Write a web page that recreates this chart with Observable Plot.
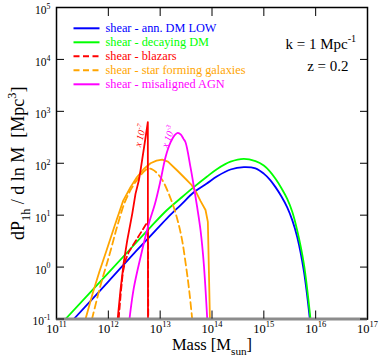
<!DOCTYPE html>
<html><head><meta charset="utf-8">
<script src="https://cdn.jsdelivr.net/npm/d3@7"></script>
<script src="https://cdn.jsdelivr.net/npm/@observablehq/plot@0.6"></script>
<style>
body{margin:0;background:#fff}
svg text{white-space:pre}
</style>
</head><body><div id="chart"></div>
<script>
// ---------- data (log10 values) ----------
const xTicks = [1e11, 1e12, 1e13, 1e14, 1e15, 1e16, 1e17];
const xTickLabels = ["10^{11}", "10^{12}", "10^{13}", "10^{14}", "10^{15}", "10^{16}", "10^{17}"];
const yTicks = [1e-1, 1e0, 1e1, 1e2, 1e3, 1e4, 1e5];
const yTickLabels = ["10^{-1}", "10^{0}", "10^{1}", "10^{2}", "10^{3}", "10^{4}", "10^{5}"];

const seriesNames = ["shear - ann. DM LOW", "shear - decaying DM", "shear - blazars", "shear - star forming galaxies", "shear - misaligned AGN"];
const seriesColors = ["#0000ff", "#00ff00", "#ff0000", "#ffa500", "#ff00ff"];

// annihilating DM (blue)
const annDM_logM = [11.334, 12.0, 12.5, 12.814, 13.122, 13.4, 13.649, 13.9, 14.10, 14.357, 14.614, 14.839, 14.999, 15.12, 15.225, 15.34, 15.451, 15.55, 15.644, 15.771, 15.887];
const annDM_logP = [-1.0, -0.28, 0.27, 0.60, 0.93, 1.20, 1.44, 1.61, 1.75, 1.88, 1.924, 1.90, 1.80, 1.68, 1.54, 1.36, 1.15, 0.90, 0.58, -0.07, -1.0];
// decaying DM (green)
const decDM_logM = [11.174, 12.0, 12.5, 12.814, 13.122, 13.4, 13.649, 13.9, 14.10, 14.357, 14.614, 14.839, 14.999, 15.12, 15.225, 15.34, 15.451, 15.55, 15.644, 15.771, 15.90];
const decDM_logP = [-1.0, -0.11, 0.43, 0.77, 1.09, 1.33, 1.54, 1.74, 1.89, 2.03, 2.086, 2.04, 1.956, 1.84, 1.70, 1.52, 1.315, 1.06, 0.705, 0.07, -1.0];
// blazars solid (red)
const blzS_logM = [12.18, 12.235, 12.298, 12.364, 12.461, 12.524, 12.588, 12.621, 12.70, 12.762, 12.765];
const blzS_logP = [-1.0, -0.44, 0.094, 0.51, 1.026, 1.41, 1.667, 1.86, 2.38, 2.79, -1.0];
// blazars dashed (red)
const blzD_logM = [12.20, 12.24, 12.28, 12.33, 12.395, 12.50, 12.60, 12.70, 12.75, 12.765, 12.77];
const blzD_logP = [-1.0, -0.5, -0.1, 0.13, 0.29, 0.46, 0.62, 0.78, 0.86, 0.84, -1.0];
// star forming galaxies solid (orange)
const sfgS_logM = [11.56, 11.70, 11.83, 11.965, 12.13, 12.287, 12.428, 12.55, 12.684, 12.814, 12.93, 13.039, 13.15, 13.329, 13.45, 13.60, 13.70, 13.78, 13.875, 13.92, 13.96];
const sfgS_logP = [-1.0, -0.50, -0.08, 0.32, 0.82, 1.28, 1.54, 1.73, 1.89, 2.00, 2.05, 2.07, 2.03, 1.86, 1.74, 1.59, 1.43, 1.27, 1.10, 0.87, -1.0];
// star forming galaxies dashed (orange)
const sfgD_logM = [11.685, 11.85, 12.028, 12.17, 12.318, 12.45, 12.60, 12.72, 12.78, 12.85, 12.93, 13.04, 13.15, 13.263, 13.35, 13.425, 13.49, 13.553, 13.618];
const sfgD_logP = [-1.0, -0.35, 0.26, 0.78, 1.25, 1.52, 1.74, 1.87, 1.90, 1.88, 1.82, 1.68, 1.45, 1.15, 0.85, 0.51, 0.08, -0.39, -1.0];
// misaligned AGN (magenta)
const agn_logM = [12.408, 12.491, 12.621, 12.781, 12.90, 13.007, 13.103, 13.2, 13.28, 13.34, 13.40, 13.45, 13.489, 13.585, 13.65, 13.714, 13.78, 13.842, 13.908];
const agn_logP = [-1.0, -0.407, 0.19, 0.834, 1.22, 1.667, 2.116, 2.40, 2.54, 2.586, 2.55, 2.47, 2.405, 1.924, 1.55, 1.153, 0.70, 0.06, -1.0];

// annotations
const annotLabels = ["x 10^{-7}", "x 10^{-3}"];
const annotLogM = [12.62, 13.16];
const annotLogP = [2.53, 2.51];
const annotColors = ["#ff0000", "#ff00ff"];

const infoLabels = ["k = 1 Mpc^{-1}", "z = 0.2"];

// ---------- build ----------
const FONT = '"Liberation Serif","Times New Roman",serif';
const rows = (lm, lp) => lm.map((m, i) => ({M: 10 ** m, P: 10 ** lp[i]}));

const series = [
  {rows: rows(annDM_logM, annDM_logP), color: seriesColors[0], dash: null, curve: "catmull-rom"},
  {rows: rows(decDM_logM, decDM_logP), color: seriesColors[1], dash: null, curve: "catmull-rom"},
  {rows: rows(sfgS_logM, sfgS_logP), color: seriesColors[3], dash: null, curve: "linear"},
  {rows: rows(sfgD_logM, sfgD_logP), color: seriesColors[3], dash: "7,4", curve: "catmull-rom"},
  {rows: rows(blzS_logM, blzS_logP), color: seriesColors[2], dash: null, curve: "linear"},
  {rows: rows(blzD_logM, blzD_logP), color: seriesColors[2], dash: "6,3.5", curve: "linear"},
  {rows: rows(agn_logM, agn_logP), color: seriesColors[4], dash: null, curve: "catmull-rom"}
];
const legendDash = [null, null, "6,3.5", "6,3.5", null];

const annots = annotLabels.map((t, i) => ({t, M: 10 ** annotLogM[i], P: 10 ** annotLogP[i], c: annotColors[i], r: i === 0 ? -75 : -70}));

const chart = Plot.plot({
  width: 379, height: 363,
  marginLeft: 56, marginRight: 12, marginTop: 7, marginBottom: 44.5,
  style: {fontFamily: FONT, background: "white", overflow: "visible"},
  x: {type: "log", domain: [1e11, 1e17]},
  y: {type: "log", domain: [1e-1, 1e5]},
  marks: [
    ...series.map(s => Plot.line(s.rows, {x: "M", y: "P", stroke: s.color, strokeWidth: 1.8, strokeDasharray: s.dash, curve: s.curve, clip: true})),
    Plot.text(annots, {x: "M", y: "P", text: "t", fill: "c", rotate: d => d.r, fontSize: 10, fontStyle: "italic"}),
    Plot.frame({stroke: "black", strokeWidth: 1.5}),
    Plot.ruleY([1e-1], {stroke: "#8c8c8c", strokeWidth: 3}),
    Plot.axisX({ticks: xTicks, anchor: "bottom", tickSize: -8, tickFormat: () => "", label: null, stroke: "black"}),
    Plot.axisX({ticks: xTicks, anchor: "top", tickSize: -8, tickFormat: () => "", label: null, stroke: "black"}),
    Plot.axisY({ticks: yTicks, anchor: "left", tickSize: -8, tickFormat: () => "", label: null, stroke: "black"}),
    Plot.axisY({ticks: yTicks, anchor: "right", tickSize: -8, tickFormat: () => "", label: null, stroke: "black"}),
    Plot.text(xTickLabels, {x: (d, i) => xTicks[i], text: d => d, frameAnchor: "bottom", dy: 13.8, textAnchor: "middle", fontSize: 12.5, fill: "black"}),
    Plot.text(yTickLabels, {y: (d, i) => yTicks[i], text: d => d, frameAnchor: "left", dx: -6, dy: 2.8, textAnchor: "end", fontSize: 11.5, fill: "black"}),
    Plot.text(["Mass [M_{sun}]"], {frameAnchor: "bottom", dy: 30.8, textAnchor: "middle", fontSize: 16.5, fill: "black"}),
    Plot.text(["dP_{1h} / d ln M  [Mpc^{3}]"], {frameAnchor: "left", dx: -38, rotate: -90, textAnchor: "middle", fontSize: 18, fill: "black"}),
    Plot.text([infoLabels[0]], {frameAnchor: "top-left", dx: 229, dy: 31, textAnchor: "start", fontSize: 15, fill: "black"}),
    Plot.text([infoLabels[1]], {frameAnchor: "top-left", dx: 250.7, dy: 53, textAnchor: "start", fontSize: 15, fill: "black"})
  ]
});

const svg = chart.tagName.toLowerCase() === "svg" ? chart : chart.querySelector("svg");

// legend (inside plot, top-left)
const lg = d3.select(svg).append("g").attr("font-family", FONT).attr("font-size", 12.3).attr("text-anchor", "start");
seriesNames.forEach((name, i) => {
  const y = 28.3 + i * 14.0;
  lg.append("line").attr("x1", 73.5).attr("x2", 99.5).attr("y1", y).attr("y2", y)
    .attr("stroke", seriesColors[i]).attr("stroke-width", 2).attr("stroke-dasharray", legendDash[i]);
  lg.append("text").attr("x", 105.5).attr("y", y + 3.8).attr("fill", seriesColors[i]).attr("text-anchor", "start").text(name);
});

// rich text: ^{...} superscript, _{...} subscript
const NS = "http://www.w3.org/2000/svg";
svg.querySelectorAll("text").forEach(t => {
  const str = t.textContent;
  if (!/[\^_]\{/.test(str)) return;
  const fsEl = t.closest("[font-size]");
  const fs = fsEl ? parseFloat(fsEl.getAttribute("font-size")) : 12;
  t.textContent = "";
  let cur = 0;
  const add = (txt, kind) => {
    if (!txt) return;
    const ts = document.createElementNS(NS, "tspan");
    const target = kind === "^" ? -0.45 * fs : kind === "_" ? 0.32 * fs : 0;
    if (target !== cur) ts.setAttribute("dy", (target - cur).toFixed(2));
    cur = target;
    if (kind) ts.setAttribute("font-size", (0.68 * fs).toFixed(2));
    ts.textContent = txt;
    t.appendChild(ts);
  };
  const re = /([\^_])\{([^}]*)\}/g;
  let last = 0, m;
  while ((m = re.exec(str))) {
    add(str.slice(last, m.index), null);
    add(m[2], m[1]);
    last = re.lastIndex;
  }
  add(str.slice(last), null);
});

document.getElementById("chart").appendChild(chart);
</script>
</body></html>
